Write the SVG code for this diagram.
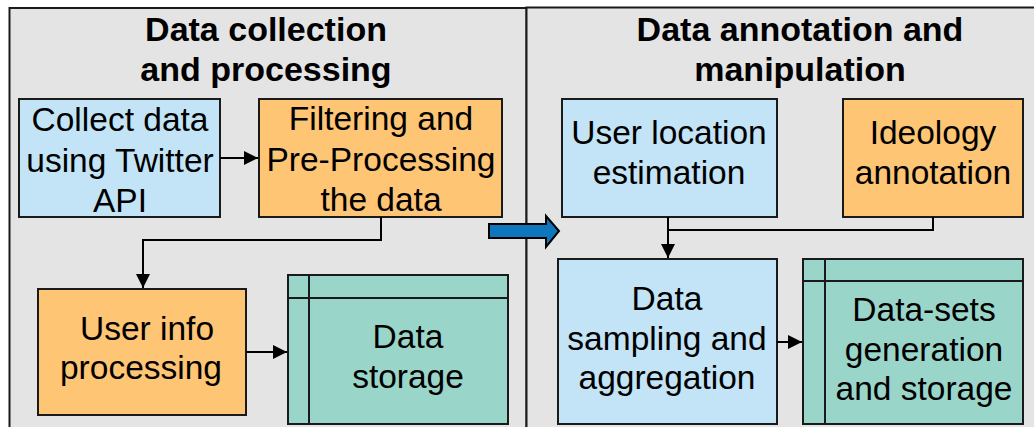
<svg xmlns="http://www.w3.org/2000/svg" width="1034" height="427" viewBox="0 0 1034 427">
<defs>
<style>
.panel{fill:#e4e4e4;stroke:#1a1a1a;stroke-width:2}
.blue{fill:#c2e4f6;stroke:#1a1a1a;stroke-width:2}
.orange{fill:#fec574;stroke:#1a1a1a;stroke-width:2}
.teal{fill:#9ad5ca;stroke:#1a1a1a;stroke-width:2}
.inner{fill:none;stroke:#1a1a1a;stroke-width:2}
.title{font-family:"Liberation Sans",Arial,sans-serif;font-weight:bold;font-size:34px;fill:#000;text-anchor:middle}
.lbl{font-family:"Liberation Sans",Arial,sans-serif;font-size:33.5px;fill:#000;text-anchor:middle}
.conn{fill:none;stroke:#000;stroke-width:2}
</style>
<marker id="ah" viewBox="0 0 10 10" refX="10" refY="5" markerWidth="7" markerHeight="7" markerUnits="strokeWidth" orient="auto">
<path d="M0,0 L10,5 L0,10 z" fill="#000"/>
</marker>
</defs>
<rect width="1034" height="427" fill="#ffffff"/>
<g id="panel-left">
<rect class="panel" x="9.5" y="8" width="517" height="440"/>
<text class="title" x="266" y="41">Data collection</text>
<text class="title" x="266" y="81">and processing</text>
</g>
<g id="panel-right">
<rect class="panel" x="526.5" y="7.5" width="520" height="440"/>
<text class="title" x="800" y="41">Data annotation and</text>
<text class="title" x="800" y="81">manipulation</text>
</g>
<g id="collect">
<rect class="blue" x="19" y="99" width="201" height="118"/>
<text class="lbl" x="120" y="131">Collect data</text>
<text class="lbl" x="120" y="171.5">using Twitter</text>
<text class="lbl" x="120" y="212">API</text>
</g>
<g id="filtering">
<rect class="orange" x="259" y="99" width="243" height="118"/>
<text class="lbl" x="381" y="130">Filtering and</text>
<text class="lbl" x="381" y="171">Pre-Processing</text>
<text class="lbl" x="381" y="211">the data</text>
</g>
<g id="userinfo">
<rect class="orange" x="38" y="289" width="208" height="126"/>
<text class="lbl" x="147" y="340">User info</text>
<text class="lbl" x="141" y="379">processing</text>
</g>
<g id="datastorage">
<rect class="teal" x="288" y="275" width="220" height="149"/>
<line class="inner" x1="288" y1="298" x2="508" y2="298"/>
<line class="inner" x1="309" y1="275" x2="309" y2="424"/>
<text class="lbl" x="408" y="348">Data</text>
<text class="lbl" x="408" y="388">storage</text>
</g>
<g id="userlocation">
<rect class="blue" x="562" y="99" width="215" height="118"/>
<text class="lbl" x="669" y="144">User location</text>
<text class="lbl" x="669" y="184">estimation</text>
</g>
<g id="ideology">
<rect class="orange" x="843" y="99" width="180" height="118"/>
<text class="lbl" x="933" y="144">Ideology</text>
<text class="lbl" x="933" y="184">annotation</text>
</g>
<g id="sampling">
<rect class="blue" x="558" y="259" width="219" height="165"/>
<text class="lbl" x="667" y="310">Data</text>
<text class="lbl" x="667" y="350">sampling and</text>
<text class="lbl" x="667" y="389">aggregation</text>
</g>
<g id="datasets">
<rect class="teal" x="803" y="259" width="220" height="165"/>
<line class="inner" x1="803" y1="281" x2="1023" y2="281"/>
<line class="inner" x1="825" y1="259" x2="825" y2="424"/>
<text class="lbl" x="924" y="321">Data-sets</text>
<text class="lbl" x="924" y="361">generation</text>
<text class="lbl" x="924" y="400">and storage</text>
</g>
<g id="connectors">
<line class="conn" x1="220" y1="158" x2="258" y2="158" marker-end="url(#ah)"/>
<polyline class="conn" points="381,217 381,240 143,240 143,288" marker-end="url(#ah)"/>
<line class="conn" x1="246" y1="352" x2="287" y2="352" marker-end="url(#ah)"/>
<line class="conn" x1="668" y1="217" x2="668" y2="258" marker-end="url(#ah)"/>
<polyline class="conn" points="933,217 933,230 668,230"/>
<line class="conn" x1="777" y1="342" x2="802" y2="342" marker-end="url(#ah)"/>
<polygon points="489,224 546,224 546,216 559,231 546,247 546,238 489,238" fill="#0e76bc" stroke="#000" stroke-width="2" stroke-linejoin="miter"/>
</g>
</svg>
